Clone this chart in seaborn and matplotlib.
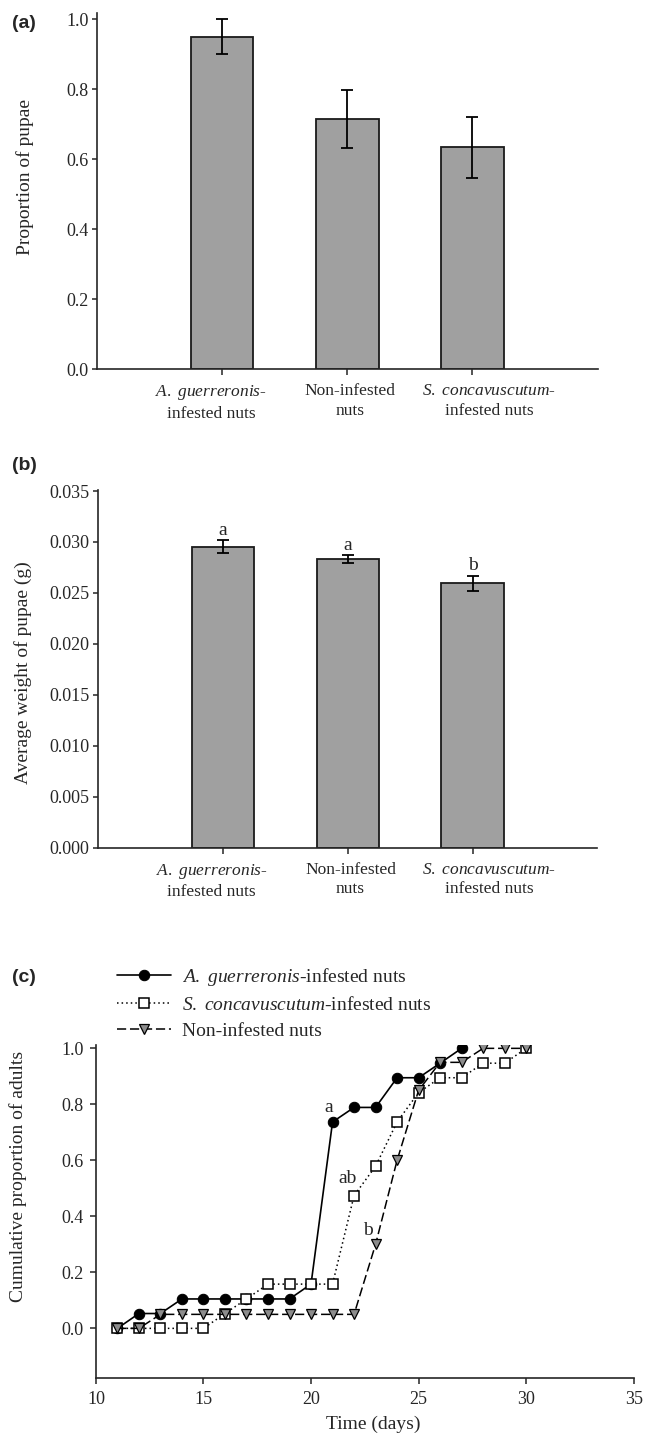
import matplotlib
matplotlib.use("Agg")
import matplotlib.pyplot as plt
import seaborn as sns
import numpy as np
import pandas as pd

# ---- data -------------------------------------------------------------
treatments = [
    "$\\mathit{A.\\ guerreronis}$-\ninfested nuts",
    "Non-infested\nnuts",
    "$\\mathit{S.\\ concavuscutum}$-\ninfested nuts",
]
pupae_prop = [0.95, 0.714, 0.634]
pupae_prop_se = [0.05, 0.083, 0.088]

pupae_weight = [0.02955, 0.02832, 0.02593]
pupae_weight_se = [0.00065, 0.0004, 0.00077]
weight_letters = ["a", "a", "b"]

days_ag = list(range(11, 28))
cum_ag = [0.0, 0.053, 0.053, 0.105, 0.105, 0.105, 0.105, 0.105, 0.105,
          0.158, 0.737, 0.789, 0.789, 0.895, 0.895, 0.947, 1.0]
days_sc = list(range(11, 31))
cum_sc = [0.0, 0.0, 0.0, 0.0, 0.0, 0.053, 0.105, 0.158, 0.158, 0.158,
          0.158, 0.474, 0.579, 0.737, 0.842, 0.895, 0.895, 0.947, 0.947, 1.0]
days_ni = list(range(11, 31))
cum_ni = [0.0, 0.0, 0.05, 0.05, 0.05, 0.05, 0.05, 0.05, 0.05, 0.05,
          0.05, 0.05, 0.30, 0.60, 0.85, 0.95, 0.95, 1.0, 1.0, 1.0]

series_labels = [
    "$\\mathit{A.\\ guerreronis}$-infested nuts",
    "$\\mathit{S.\\ concavuscutum}$-infested nuts",
    "Non-infested nuts",
]
curve_letters = ["a", "ab", "b"]
curve_letter_pos = [(20.81, 0.79), (21.71, 0.536), (22.63, 0.351)]

# ---- style ------------------------------------------------------------
sns.set_style("ticks")
plt.rcParams["font.family"] = ["Liberation Serif", "DejaVu Serif"]
plt.rcParams["mathtext.fontset"] = "custom"
plt.rcParams["mathtext.rm"] = "Liberation Serif"
plt.rcParams["mathtext.it"] = "Liberation Serif:italic"
plt.rcParams["axes.linewidth"] = 1.2
plt.rcParams["xtick.major.width"] = 1.1
plt.rcParams["ytick.major.width"] = 1.1
plt.rcParams["xtick.major.size"] = 4
plt.rcParams["ytick.major.size"] = 3.5
plt.rcParams["xtick.direction"] = "out"
plt.rcParams["ytick.direction"] = "out"

BAR_GRAY = "#a0a0a0"
TICK_FS = 13
CAT_FS = 12.5
LABEL_FS = 14
# horizontal nudge (points) of each category label relative to its tick
CAT_SHIFT_PT = [-8, 2, 12]

fig = plt.figure(figsize=(6.45, 14.37), dpi=100)
ax_a = fig.add_axes([0.1504, 0.7432, 0.776, 0.2475])
ax_b = fig.add_axes([0.1519, 0.4101, 0.7744, 0.2489])
ax_c = fig.add_axes([0.1487, 0.0408, 0.8338, 0.2320])


def bar_panel(ax, values, errors, ylabel, ylim, yticks, fmt, label_xy):
    df = pd.DataFrame({"treatment": treatments, "value": values})
    sns.barplot(data=df, x="treatment", y="value", color=BAR_GRAY,
                saturation=1, width=0.5, edgecolor="#1a1a1a", linewidth=1.3,
                errorbar=None, ax=ax)
    pos = np.arange(len(values))
    ax.errorbar(pos, values, yerr=errors, fmt="none", ecolor="black",
                elinewidth=1.3, capsize=4, capthick=1.3, zorder=5)
    ax.set_xlim(-1.0, 3.0)
    ax.set_ylim(*ylim)
    ax.set_yticks(yticks)
    ax.set_yticklabels([fmt.format(t) for t in yticks], fontsize=TICK_FS)
    ax.set_xticks(pos)
    ax.set_xticklabels([])
    # category names sit under the ticks, nudged sideways
    for p, name, dx in zip(pos, treatments, CAT_SHIFT_PT):
        ax.annotate(name, xy=(p, 0), xycoords=ax.get_xaxis_transform(),
                    xytext=(dx, -10), textcoords="offset points",
                    ha="center", va="top", fontsize=CAT_FS, linespacing=1.3)
    ax.tick_params(axis="y", pad=2.5)
    ax.set_xlabel("")
    ax.set_ylabel(ylabel, fontsize=LABEL_FS)
    ax.yaxis.set_label_coords(*label_xy)
    sns.despine(ax=ax)


# (a) proportion of pupae
bar_panel(ax_a, pupae_prop, pupae_prop_se, "Proportion of pupae",
          (0, 1.017), np.arange(0, 1.01, 0.2), "{:.1f}", (-0.126, 0.54))

# (b) pupal weight with significance letters
bar_panel(ax_b, pupae_weight, pupae_weight_se, "Average weight of pupae (g)",
          (0, 0.0351), np.arange(0, 0.0351, 0.005), "{:.3f}", (-0.132, 0.49))
for i, (v, e, lt) in enumerate(zip(pupae_weight, pupae_weight_se, weight_letters)):
    ax_b.annotate(lt, xy=(i, v + e), xytext=(0, 1), textcoords="offset points",
                  ha="center", va="bottom", fontsize=LABEL_FS)

# (c) cumulative adult emergence
curve_styles = [
    dict(marker="o", markersize=7.5, markerfacecolor="black",
         markeredgecolor="black", linestyle="-", color="black", linewidth=1.2),
    dict(marker="s", markersize=7, markerfacecolor="white",
         markeredgecolor="black", markeredgewidth=1.1,
         linestyle=(0, (1, 2)), color="black", linewidth=1.1),
    dict(marker="v", markersize=7.5, markerfacecolor="#8c8c8c",
         markeredgecolor="black", markeredgewidth=0.9,
         linestyle=(0, (6, 2.5)), color="black", linewidth=1.1),
]
curves = [(days_ag, cum_ag), (days_sc, cum_sc), (days_ni, cum_ni)]
for (d, v), style in zip(curves, curve_styles):
    sns.lineplot(x=d, y=v, ax=ax_c, estimator=None, sort=False, **style)

ax_c.set_xlim(10, 35)
ax_c.set_ylim(-0.1786, 1.012)
ax_c.set_xticks(np.arange(10, 36, 5))
ax_c.set_xticklabels([str(t) for t in range(10, 36, 5)], fontsize=TICK_FS)
yt = np.arange(0, 1.01, 0.2)
ax_c.set_yticks(yt)
ax_c.set_yticklabels(["{:.1f}".format(t) for t in yt], fontsize=TICK_FS)
ax_c.tick_params(axis="x", pad=5)
ax_c.tick_params(axis="y", length=4.5, pad=4.5)
ax_c.set_xlabel("Time (days)", fontsize=LABEL_FS)
ax_c.xaxis.set_label_coords(0.515, -0.112)
ax_c.set_ylabel("Cumulative proportion of adults", fontsize=LABEL_FS)
ax_c.yaxis.set_label_coords(-0.128, 0.605)
sns.despine(ax=ax_c)

for lt, (x, y) in zip(curve_letters, curve_letter_pos):
    ax_c.text(x, y, lt, ha="center", va="center", fontsize=LABEL_FS)

handles = ax_c.get_lines()[:3]
fig.legend(handles, series_labels, loc="upper left",
           bbox_to_anchor=(117 / 645, 1 - 966 / 1437), frameon=False,
           fontsize=LABEL_FS, handlelength=2.8, handletextpad=0.55,
           labelspacing=0.42, borderpad=0, borderaxespad=0, numpoints=1)

# panel tags
for tag, ypix in [("(a)", 24), ("(b)", 465), ("(c)", 977)]:
    fig.text(12 / 645, 1 - ypix / 1437, tag, ha="left", va="center",
             fontsize=14, fontweight="bold", family="Liberation Sans")

fig.savefig("out.png", dpi=100)
